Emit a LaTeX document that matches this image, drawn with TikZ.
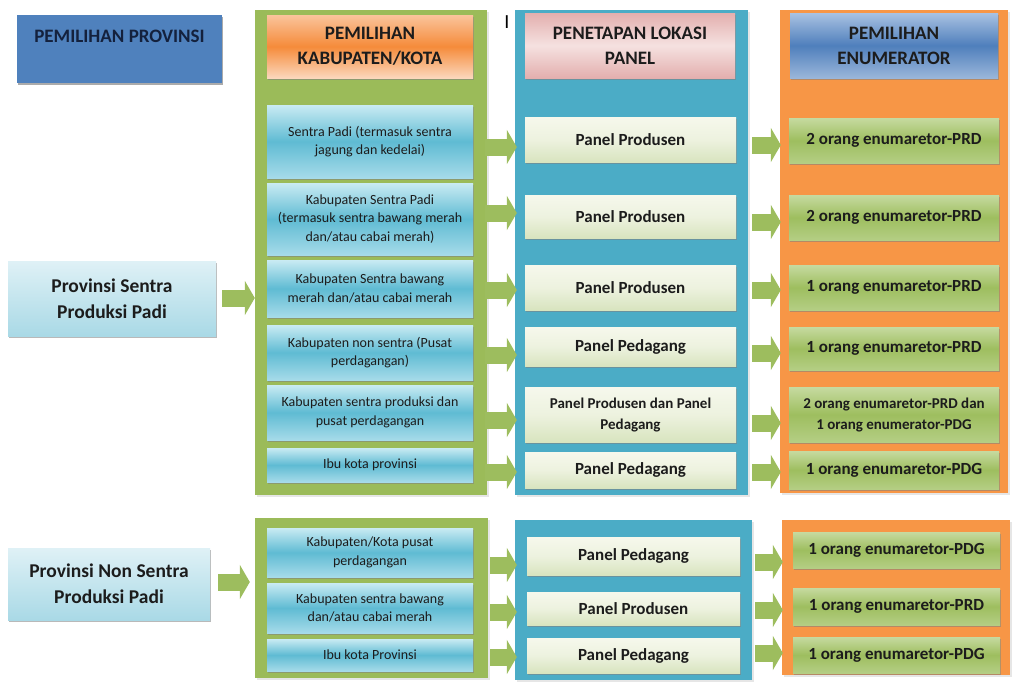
\documentclass[tikz,border=0pt]{standalone}
\usepackage{fontspec}
\setmainfont{Carlito}
\usetikzlibrary{arrows.meta,shadows}
\definecolor{provcolor}{HTML}{4F81BD}
\definecolor{kabcolor}{HTML}{9BBB59}
\definecolor{lokcolor}{HTML}{4BACC6}
\definecolor{enumcolor}{HTML}{F79646}
\definecolor{arrowcolor}{HTML}{9DBD5E}
\definecolor{inktext}{HTML}{1C1C1C}
\definecolor{navytext}{HTML}{14213D}
\definecolor{HTML-DFF1F6}{HTML}{DFF1F6}
\definecolor{HTML-A9D9E6}{HTML}{A9D9E6}
\definecolor{HTML-C9EBF3}{HTML}{C9EBF3}
\definecolor{HTML-A6DBE9}{HTML}{A6DBE9}
\definecolor{HTML-5FBBD3}{HTML}{5FBBD3}
\definecolor{HTML-F6F8EC}{HTML}{F6F8EC}
\definecolor{HTML-D8E4BF}{HTML}{D8E4BF}
\definecolor{HTML-EDF2DF}{HTML}{EDF2DF}
\definecolor{HTML-C6DAA0}{HTML}{C6DAA0}
\definecolor{HTML-B4CE84}{HTML}{B4CE84}
\definecolor{HTML-9EBE5F}{HTML}{9EBE5F}
\definecolor{HTML-FAC49C}{HTML}{FAC49C}
\definecolor{HTML-F58B3A}{HTML}{F58B3A}
\definecolor{HTML-FBD7BC}{HTML}{FBD7BC}
\definecolor{HTML-E3AFAE}{HTML}{E3AFAE}
\definecolor{HTML-F5E1E0}{HTML}{F5E1E0}
\definecolor{HTML-A9C2E2}{HTML}{A9C2E2}
\definecolor{HTML-4F7FBC}{HTML}{4F7FBC}
\definecolor{HTML-9AB6DA}{HTML}{9AB6DA}
\tikzset{
  flow panel/.style={inner sep=0pt,drop shadow={opacity=.2,shadow xshift=2pt,shadow yshift=-2pt}},
  flow box/.style={inner sep=2pt,align=center,text=inktext,drop shadow={opacity=.55,shadow xshift=.6pt,shadow yshift=-2pt}},
  flow head/.style={flow box,font=\bfseries\fontsize{19}{25}\selectfont},
  flow prov/.style={flow box,minimum width=206pt,top color=HTML-DFF1F6,bottom color=HTML-A9D9E6,
    font=\bfseries\fontsize{19.5}{26}\selectfont},
  flow kab/.style={flow box,minimum width=206pt,top color=HTML-C9EBF3,bottom color=HTML-A6DBE9,middle color=HTML-5FBBD3,
    font=\fontsize{14}{18.5}\selectfont},
  flow lok/.style={flow box,top color=HTML-F6F8EC,bottom color=HTML-D8E4BF,middle color=HTML-EDF2DF},
  flow enum/.style={flow box,top color=HTML-C6DAA0,bottom color=HTML-B4CE84,middle color=HTML-9EBE5F},
  flow arrow/.style={draw=arrowcolor,line width=17pt,-{Triangle[length=10pt,width=34pt]}}
}
\begin{document}
\begin{tikzpicture}[x=1pt,y=-1pt]
  \useasboundingbox (0,0) rectangle (1014,681);
  \node[flow panel,fill=kabcolor,minimum width=232pt,minimum height=485pt] (kabpanel) at (371,252.5) {};
  \node[flow panel,fill=lokcolor,minimum width=233pt,minimum height=485pt] (lokpanel) at (631.5,252.5) {};
  \node[flow panel,fill=enumcolor,minimum width=228pt,minimum height=483pt] (enumpanel) at (894,251.5) {};
  \node[flow panel,fill=kabcolor,minimum width=233pt,minimum height=160pt] (bkabpanel) at (371.5,598) {};
  \node[flow panel,fill=lokcolor,minimum width=237pt,minimum height=160pt] (blokpanel) at (633.5,600) {};
  \node[flow panel,fill=enumcolor,minimum width=228pt,minimum height=155pt] (benumpanel) at (896,597.5) {};
  \node[flow head,fill=provcolor,text=navytext,minimum width=205pt,minimum height=68pt,
    drop shadow={opacity=.25,shadow xshift=1pt,shadow yshift=-2pt}] (hprov) at (119.5,49) {PEMILIHAN PROVINSI\\\mbox{}};
  \node[flow head,top color=HTML-FAC49C,bottom color=HTML-FBD7BC,middle color=HTML-F58B3A,
    minimum width=206pt,minimum height=63pt] (hkab) at (370,46.5) {PEMILIHAN\\KABUPATEN/KOTA};
  \node[flow head,top color=HTML-E3AFAE,bottom color=HTML-E3AFAE,middle color=HTML-F5E1E0,
    minimum width=210pt,minimum height=65pt] (hlok) at (630,45.5) {PENETAPAN LOKASI\\PANEL};
  \node[flow head,top color=HTML-A9C2E2,bottom color=HTML-9AB6DA,middle color=HTML-4F7FBC,
    minimum width=208pt,minimum height=65pt] (henum) at (894,45.5) {PEMILIHAN\\ENUMERATOR};
  \node[font=\fontsize{20}{24}\selectfont,inner sep=0pt] (cursor) at (507,22) {I};
  \node[flow prov,minimum width=208pt,minimum height=75pt] (prov1) at (112,298.5) {Provinsi Sentra\\Produksi Padi};
  \node[flow prov,minimum width=202pt,minimum height=72pt] (prov2) at (109,584) {Provinsi Non Sentra\\Produksi Padi};
  \foreach \n/\y/\h/\lab in {1/141.5/73/{Sentra Padi (termasuk sentra\\jagung dan kedelai)},
      2/219/72/{Kabupaten Sentra Padi\\(termasuk sentra bawang  merah\\dan/atau cabai merah)},
      3/288.5/57/{Kabupaten Sentra bawang\\merah dan/atau cabai merah},
      4/352.5/55/{Kabupaten non sentra (Pusat\\perdagangan)},
      5/412.5/55/{Kabupaten sentra produksi dan\\pusat perdagangan},
      6/465/34/{Ibu kota provinsi}}
    \node[flow kab,minimum height=\h pt] (kab\n) at (370,\y) {\lab};
  \foreach \n/\y/\h/\fs/\lab in {1/139.5/45/17/{Panel Produsen},2/216.5/43/17/{Panel Produsen},
      3/287.5/45/17/{Panel Produsen},4/346.5/39/17/{Panel Pedagang},
      5/414.5/55/15/{Panel Produsen dan Panel\\Pedagang},6/470/36/17/{Panel Pedagang}}
    \node[flow lok,minimum width=211pt,minimum height=\h pt,font=\bfseries\fontsize{\fs}{21}\selectfont] (lok\n) at (630.5,\y) {\lab};
  \foreach \n/\y/\h/\fs/\lab in {1/140.5/45/17/{2 orang enumaretor-PRD},2/217.5/45/17/{2 orang enumaretor-PRD},
      3/287.5/45/17/{1 orang enumaretor-PRD},4/348.5/43/17/{1 orang enumaretor-PRD},
      5/414.5/55/15/{2 orang enumaretor-PRD dan\\1 orang enumerator-PDG},6/470/38/17/{1 orang enumaretor-PDG}}
    \node[flow enum,minimum width=210pt,minimum height=\h pt,font=\bfseries\fontsize{\fs}{21}\selectfont] (enum\n) at (894,\y) {\lab};
  \foreach \n/\y/\h/\lab in {1/552.5/49/{Kabupaten/Kota pusat\\perdagangan},
      2/608/50/{Kabupaten sentra bawang\\dan/atau cabai merah},3/655/32/{Ibu kota Provinsi}}
    \node[flow kab,minimum height=\h pt] (bkab\n) at (370,\y) {\lab};
  \foreach \n/\y/\h/\lab in {1/556/38/{Panel Pedagang},2/608.5/33/{Panel Produsen},3/655.5/35/{Panel Pedagang}}
    \node[flow lok,minimum width=213pt,minimum height=\h pt,font=\bfseries\fontsize{17}{21}\selectfont] (blok\n) at (633.5,\y) {\lab};
  \foreach \n/\y/\h/\lab in {1/550/36/{1 orang enumaretor-PDG},2/606.5/37/{1 orang enumaretor-PRD},3/655/36/{1 orang enumaretor-PDG}}
    \node[flow enum,minimum width=207pt,minimum height=\h pt,font=\bfseries\fontsize{17}{21}\selectfont] (benum\n) at (896.5,\y) {\lab};
  \draw[flow arrow,shorten <=6pt] (prov1.east |- 0,298) -- (kabpanel.west |- 0,298);
  \draw[flow arrow,shorten <=8pt,shorten >=5pt] (prov2.east |- 0,582) -- (bkabpanel.west |- 0,582);
  \foreach \n/\ay in {1/147,2/213,3/290,4/355,5/420,6/472}
    \draw[flow arrow,shorten <=12pt,shorten >=8pt] (kab\n.east |- 0,\ay) -- (lok\n.west |- 0,\ay);
  \foreach \n/\ay in {1/145,2/222,3/290,4/353,5/423,6/472}
    \draw[flow arrow,shorten <=16pt,shorten >=8pt] (lok\n.east |- 0,\ay) -- (enum\n.west |- 0,\ay);
  \foreach \n/\ay in {1/565,2/612,3/657}
    \draw[flow arrow,shorten <=17pt,shorten >=10pt] (bkab\n.east |- 0,\ay) -- (blok\n.west |- 0,\ay);
  \foreach \n/\ay in {1/562,2/610,3/653}
    \draw[flow arrow,shorten <=15pt,shorten >=10pt] (blok\n.east |- 0,\ay) -- (benum\n.west |- 0,\ay);
\end{tikzpicture}
\end{document}
